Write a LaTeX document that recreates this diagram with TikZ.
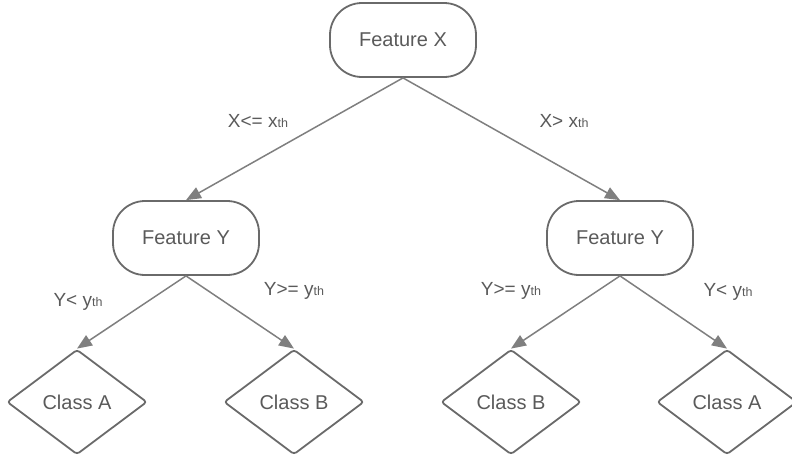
\documentclass[tikz,border=0pt]{standalone}
\usepackage{fontspec}
\setmainfont{Liberation Sans}
\usetikzlibrary{shapes.geometric,arrows.meta}
\definecolor{txt}{HTML}{5A5A5A}
\definecolor{bord}{HTML}{6A6A6A}
\definecolor{edge}{HTML}{7F7F7F}
\tikzset{
  featbox/.style={draw=bord, line width=1.8pt, rounded corners=32pt, minimum width=146pt, minimum height=74pt, inner sep=0pt, text=txt, font=\fontsize{20}{22}\selectfont},
  classbox/.style={draw=bord, line width=1.8pt, diamond, rounded corners=3pt, minimum width=140pt, minimum height=105pt, inner sep=0pt, text=txt, font=\fontsize{20}{22}\selectfont},
  conn/.style={draw=edge, line width=1.5pt, -{Triangle[length=15pt,width=12pt]}},
  lab/.style={text=txt, font=\fontsize{19}{22}\selectfont, inner sep=0pt}
}
\newcommand{\thsub}{{\fontsize{12.5}{12}\selectfont th}}
\begin{document}
\begin{tikzpicture}[x=1pt,y=-1pt]
\useasboundingbox (0,0) rectangle (792,459);
\clip (0,0) rectangle (792,459);
\node[featbox] (fx) at (403,40) {Feature X};
\node[featbox] (fyl) at (186,238) {Feature Y};
\node[featbox] (fyr) at (620,238) {Feature Y};
\node[classbox] (cal) at (77,402) {Class A};
\node[classbox] (cbl) at (294,402) {Class B};
\node[classbox] (cbr) at (511,402) {Class B};
\node[classbox] (car) at (727,402) {Class A};
\draw[conn] (fx.south) -- (fyl.north);
\draw[conn] (fx.south) -- (fyr.north);
\draw[conn] (fyl.south) -- (cal.north);
\draw[conn] (fyl.south) -- (cbl.north);
\draw[conn] (fyr.south) -- (cbr.north);
\draw[conn] (fyr.south) -- (car.north);
\node[lab] (l1) at (258,121) {X<= x\thsub};
\node[lab] (l2) at (564,121) {X> x\thsub};
\node[lab] (l3) at (78,302) {Y< y\thsub};
\node[lab] (l4) at (294,291) {Y>= y\thsub};
\node[lab] (l5) at (511,291) {Y>= y\thsub};
\node[lab] (l6) at (728,292) {Y< y\thsub};
\end{tikzpicture}
\end{document}
